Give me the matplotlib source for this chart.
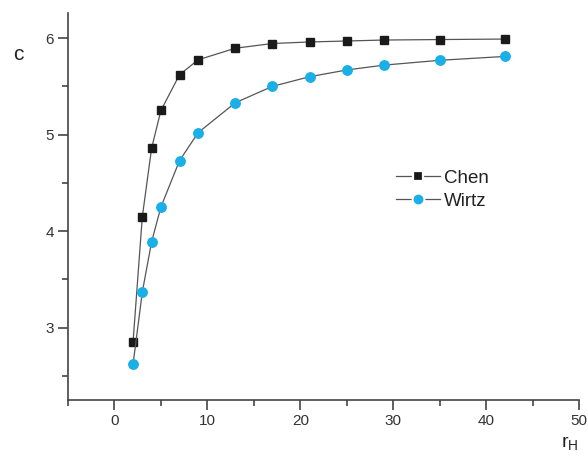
import matplotlib
matplotlib.use("Agg")
import matplotlib.pyplot as plt
from matplotlib.ticker import MultipleLocator
from matplotlib.lines import Line2D

plt.rcParams['font.family'] = ['Liberation Sans', 'DejaVu Sans']

r_chen = [2, 3, 4, 5, 7, 9, 13, 17, 21, 25, 29, 35, 42]
c_chen = [2.85, 4.15, 4.86, 5.25, 5.62, 5.775, 5.895, 5.944, 5.96, 5.97, 5.98, 5.985, 5.99]
r_wirtz = [2, 3, 4, 5, 7, 9, 13, 17, 21, 25, 29, 35, 42]
c_wirtz = [2.62, 3.37, 3.89, 4.25, 4.73, 5.02, 5.33, 5.50, 5.60, 5.67, 5.72, 5.77, 5.81]

fig = plt.figure(figsize=(5.88, 4.58), dpi=100)
ax = fig.add_axes([0.1156, 0.1266, 0.8694, 0.845])

line_col = '#555555'
chen_col = '#1a1a1a'
wirtz_col = '#1aafe6'
ax.plot(r_chen, c_chen, '-', color=line_col, lw=0.9, marker='s', ms=5.6,
        mfc=chen_col, mec=chen_col, zorder=3)
ax.plot(r_wirtz, c_wirtz, '-', color=line_col, lw=0.9, marker='o', ms=6.8,
        mfc=wirtz_col, mec=wirtz_col, zorder=3)

ax.set_xlim(-5, 50)
ax.set_ylim(2.25, 6.26)
ax.xaxis.set_major_locator(MultipleLocator(10))
ax.xaxis.set_minor_locator(MultipleLocator(5))
ax.yaxis.set_major_locator(MultipleLocator(1))
ax.yaxis.set_minor_locator(MultipleLocator(0.5))

spine_col = '#444444'
for s in ['top', 'right']:
    ax.spines[s].set_visible(False)
for s in ['left', 'bottom']:
    ax.spines[s].set_color(spine_col)
    ax.spines[s].set_linewidth(1.2)

ax.tick_params(which='major', direction='out', length=7, width=1.2, color=spine_col,
               labelsize=11, labelcolor='#333333', pad=3)
ax.tick_params(which='minor', direction='out', length=4, width=1.2, color=spine_col)

ax.set_xticks([0, 10, 20, 30, 40, 50])
ax.set_yticks([3, 4, 5, 6])

fig.text(18/588, 1 - 55/458, 'c', fontsize=15, color='#222222', ha='center', va='center')
fig.text(570/588, 1 - 444/458, r'r$_\mathregular{H}$', fontsize=14, color='#222222',
         ha='center', va='center')

handles = [
    Line2D([], [], color=line_col, lw=0.9, marker='s', ms=6.5, mfc=chen_col,
           mec='white', mew=1.6),
    Line2D([], [], color=line_col, lw=0.9, marker='o', ms=8.5, mfc=wirtz_col,
           mec='white', mew=1.4),
]
leg = ax.legend(handles, ['Chen', 'Wirtz'], loc='upper left',
                bbox_to_anchor=((388 - 68) / 511, 1 - (162 - 13) / 387),
                frameon=False, fontsize=13.5, handlelength=2.35, handletextpad=0.25,
                labelspacing=0.32, borderaxespad=0)
for t in leg.get_texts():
    t.set_color('#222222')

fig.savefig('out.png', dpi=100)
